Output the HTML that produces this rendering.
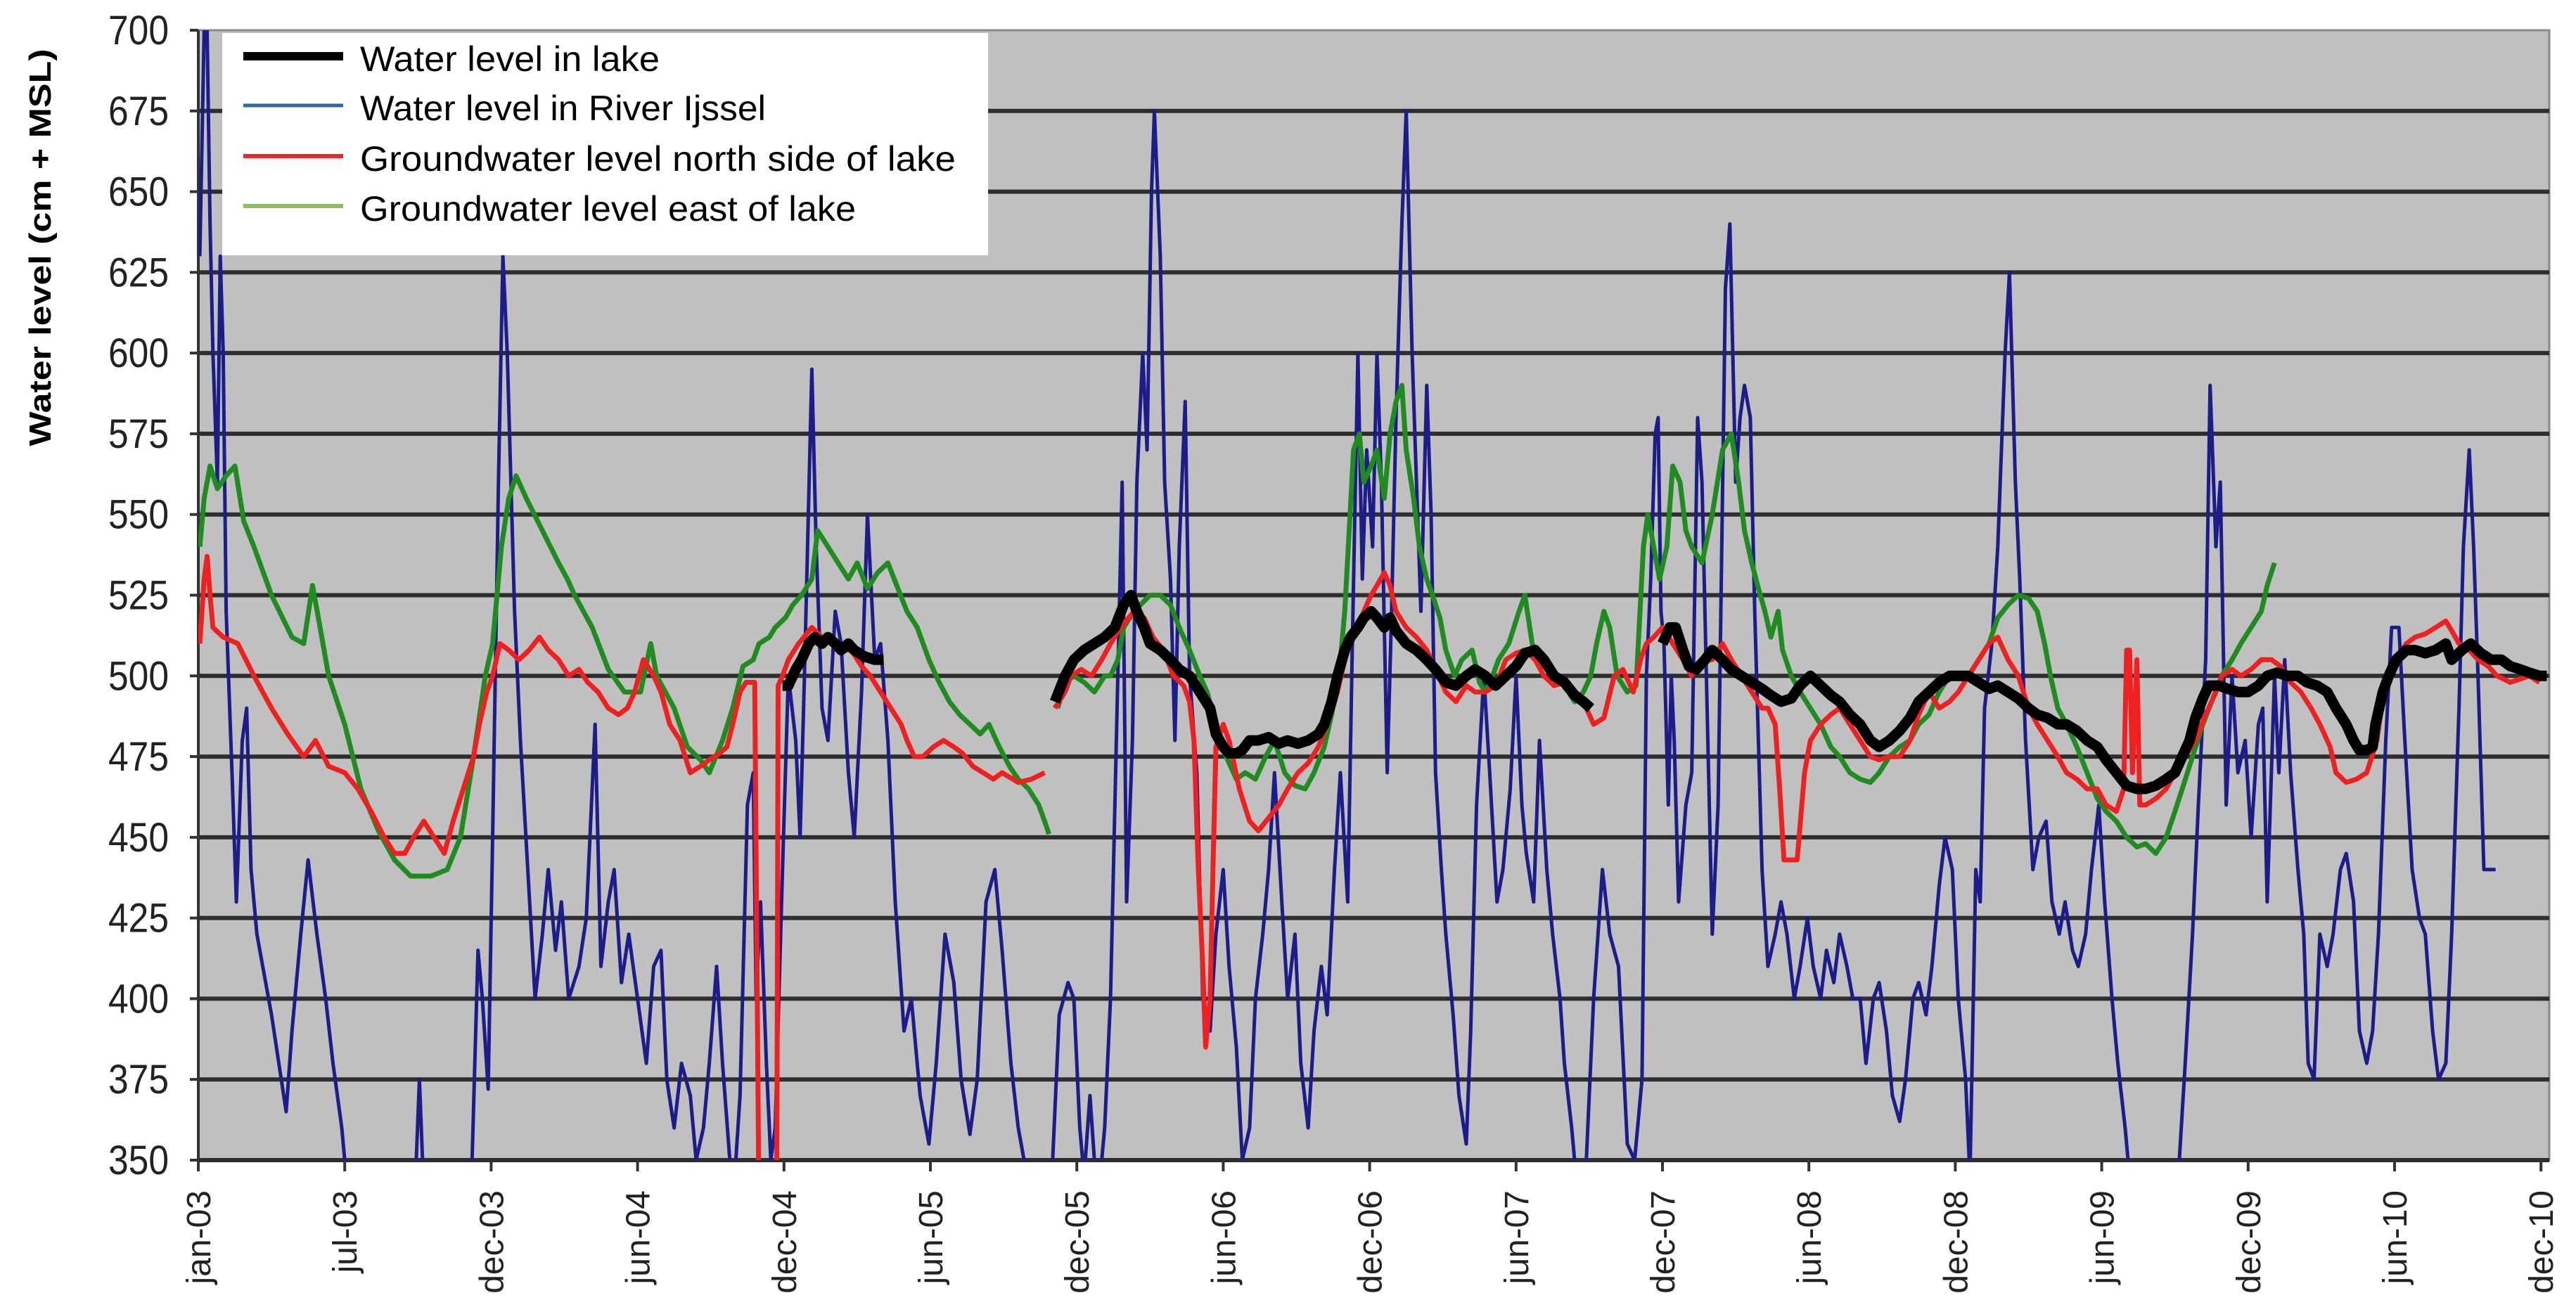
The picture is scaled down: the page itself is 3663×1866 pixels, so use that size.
<!DOCTYPE html>
<html><head><meta charset="utf-8"><style>
html,body{margin:0;padding:0;background:#fff;}
svg{display:block;}
text{font-family:"Liberation Sans",sans-serif;}
</style></head><body>
<svg id="chart" width="3663" height="1866" viewBox="0 0 3663 1866" xmlns="http://www.w3.org/2000/svg">
<defs><clipPath id="plotclip"><rect x="282" y="43" width="3343" height="1607"/></clipPath></defs>
<rect x="282" y="43" width="3343" height="1607" fill="#c0c0c0" stroke="#8a8a8a" stroke-width="3"/>
<g id="grid"></g>
<g id="axes"></g>
<g id="series" clip-path="url(#plotclip)"></g>
<text transform="translate(72,352) rotate(-90)" text-anchor="middle" font-size="44" font-weight="bold" textLength="565" lengthAdjust="spacingAndGlyphs">Water level (cm + MSL)</text>
<g>
<rect x="316" y="47" width="1089" height="316" fill="#fff"/>
<g><line x1="346" y1="80" x2="488" y2="80" stroke="#000" stroke-width="12"/><text x="512" y="101" font-size="50" textLength="426" lengthAdjust="spacingAndGlyphs">Water level in lake</text></g>
<g><line x1="346" y1="150" x2="488" y2="150" stroke="#2a6aa8" stroke-width="5"/><text x="512" y="171" font-size="50" textLength="577" lengthAdjust="spacingAndGlyphs">Water level in River Ijssel</text></g>
<g><line x1="346" y1="222" x2="488" y2="222" stroke="#e8282a" stroke-width="6"/><text x="512" y="243" font-size="50" textLength="847" lengthAdjust="spacingAndGlyphs">Groundwater level north side of lake</text></g>
<g><line x1="346" y1="293" x2="488" y2="293" stroke="#8cc060" stroke-width="6"/><text x="512" y="314" font-size="50" textLength="705" lengthAdjust="spacingAndGlyphs">Groundwater level east of lake</text></g>
</g>
</svg>
<script>
const xTickLabels=["jan-03","jul-03","dec-03","jun-04","dec-04","jun-05","dec-05","jun-06","dec-06","jun-07","dec-07","jun-08","dec-08","jun-09","dec-09","jun-10","dec-10"];
const yTicks=[350,375,400,425,450,475,500,525,550,575,600,625,650,675,700];

const riverT=[0.01,0.04,0.06,0.08,0.10,0.13,0.15,0.17,0.19,0.23,0.26,0.30,0.33,0.36,0.40,0.44,0.50,0.55,0.60,0.64,0.70,0.75,0.81,0.87,0.92,0.98,1.02,1.34,1.48,1.51,1.54,1.68,1.87,1.91,1.94,1.98,2.01,2.05,2.08,2.11,2.16,2.20,2.25,2.30,2.35,2.39,2.44,2.48,2.53,2.60,2.65,2.71,2.75,2.80,2.84,2.89,2.94,3.00,3.06,3.11,3.16,3.20,3.25,3.30,3.36,3.40,3.45,3.49,3.54,3.58,3.63,3.65,3.70,3.75,3.79,3.81,3.84,3.88,3.91,3.94,3.99,4.03,4.08,4.11,4.14,4.19,4.22,4.26,4.30,4.35,4.39,4.44,4.48,4.53,4.57,4.62,4.66,4.71,4.76,4.82,4.87,4.93,4.99,5.04,5.10,5.16,5.21,5.27,5.32,5.38,5.44,5.49,5.55,5.60,5.66,5.72,5.83,5.88,5.94,5.98,6.02,6.05,6.09,6.12,6.15,6.19,6.23,6.28,6.31,6.34,6.38,6.41,6.45,6.48,6.51,6.53,6.57,6.60,6.64,6.67,6.70,6.74,6.77,6.82,6.86,6.91,6.95,7.00,7.04,7.09,7.13,7.18,7.22,7.27,7.31,7.35,7.40,7.44,7.49,7.53,7.58,7.62,7.67,7.71,7.76,7.80,7.85,7.88,7.92,7.95,7.98,8.02,8.05,8.08,8.12,8.15,8.18,8.22,8.25,8.29,8.32,8.35,8.39,8.42,8.45,8.49,8.52,8.57,8.61,8.66,8.69,8.73,8.78,8.82,8.87,8.91,8.96,9.00,9.04,9.07,9.12,9.16,9.21,9.25,9.30,9.33,9.38,9.42,9.48,9.53,9.59,9.64,9.70,9.76,9.81,9.86,9.89,9.92,9.95,9.97,9.99,10.01,10.04,10.06,10.08,10.11,10.16,10.20,10.24,10.27,10.31,10.34,10.38,10.43,10.46,10.50,10.53,10.56,10.60,10.63,10.68,10.72,10.77,10.81,10.85,10.90,10.94,10.99,11.03,11.08,11.12,11.17,11.21,11.26,11.30,11.35,11.39,11.44,11.48,11.53,11.57,11.62,11.66,11.71,11.75,11.80,11.84,11.89,11.93,11.98,12.02,12.07,12.10,12.14,12.17,12.20,12.25,12.29,12.34,12.37,12.41,12.44,12.48,12.53,12.57,12.62,12.66,12.71,12.75,12.80,12.84,12.89,12.93,12.98,13.02,13.07,13.11,13.16,13.20,13.46,13.53,13.57,13.62,13.66,13.71,13.74,13.78,13.81,13.85,13.89,13.93,13.98,14.02,14.07,14.10,14.13,14.18,14.21,14.25,14.29,14.34,14.38,14.41,14.45,14.49,14.54,14.58,14.63,14.67,14.72,14.76,14.81,14.85,14.89,14.94,14.98,15.03,15.07,15.12,15.17,15.21,15.26,15.30,15.35,15.39,15.44,15.47,15.51,15.54,15.57,15.61,15.64,15.69];
const riverV=[630,700,700,640,600,560,630,600,520,470,430,480,490,440,420,410,395,380,365,390,420,443,420,400,380,360,340,330,340,375,340,330,350,415,400,372,450,560,630,600,520,480,440,400,420,440,415,430,400,410,425,485,410,430,440,405,420,400,380,410,415,375,360,380,370,350,360,380,410,380,350,335,370,460,470,400,430,380,350,360,440,500,480,450,500,595,540,490,480,520,510,470,450,495,550,505,510,480,430,390,400,370,355,380,420,405,375,358,375,430,440,415,380,360,345,330,345,395,405,400,360,345,370,350,340,360,400,500,560,430,480,560,600,570,650,675,630,560,530,480,540,585,500,470,400,390,420,440,410,385,350,360,400,420,440,470,430,400,420,380,360,390,410,395,440,470,430,505,600,530,570,540,600,560,470,520,580,640,675,600,560,520,590,550,470,440,420,395,370,355,390,460,500,470,430,440,465,500,460,445,430,480,440,420,400,380,360,340,350,400,440,420,410,355,350,375,500,530,575,580,520,510,460,500,480,430,460,470,580,560,480,420,460,620,640,560,580,590,580,520,440,410,420,430,420,400,410,425,410,400,415,405,420,410,400,400,380,400,405,390,370,362,375,400,405,395,410,435,450,440,400,375,345,440,430,490,510,540,600,625,560,530,480,440,450,455,430,420,430,415,410,420,440,460,430,400,380,360,340,340,350,380,420,460,505,590,540,560,460,500,470,480,450,485,490,430,500,470,505,470,440,420,380,375,420,410,420,440,445,430,390,380,390,420,480,515,515,480,440,425,420,390,375,380,420,490,540,570,540,500,440,440,440];

const northT=[0.01,0.04,0.06,0.08,0.10,0.17,0.27,0.38,0.50,0.61,0.72,0.80,0.89,1.00,1.09,1.18,1.27,1.34,1.41,1.47,1.54,1.61,1.68,1.74,1.81,1.88,1.92,1.97,2.01,2.06,2.12,2.19,2.26,2.33,2.39,2.46,2.53,2.60,2.66,2.73,2.80,2.87,2.93,2.98,3.04,3.11,3.16,3.22,3.29,3.36,3.43,3.49,3.56,3.61,3.65,3.70,3.74,3.80,3.83,3.84,3.95,3.96,3.99,4.03,4.10,4.19,4.26,4.33,4.39,4.46,4.53,4.59,4.66,4.73,4.80,4.84,4.89,4.95,5.02,5.09,5.16,5.22,5.29,5.36,5.43,5.49,5.60,5.69,5.78,null,5.85,5.92,5.96,6.03,6.10,6.17,6.23,6.30,6.39,6.46,6.52,6.59,6.66,6.73,6.77,6.80,6.83,6.86,6.88,6.91,6.93,6.95,7.00,7.04,7.11,7.18,7.24,7.31,7.38,7.44,7.51,7.58,7.65,7.71,7.78,7.83,7.87,7.92,7.96,8.01,8.05,8.10,8.14,8.18,8.25,8.32,8.39,8.45,8.52,8.59,8.66,8.72,8.79,8.86,8.93,9.00,9.06,9.13,9.19,9.26,9.33,9.40,9.46,9.53,9.60,9.67,9.73,9.80,9.85,9.89,9.94,10.00,10.07,10.14,10.20,10.27,10.34,10.41,10.47,10.54,10.61,10.68,10.72,10.77,10.80,10.83,10.88,10.92,10.97,11.01,11.08,11.15,11.21,11.28,11.35,11.42,11.48,11.55,11.62,11.69,11.75,11.82,11.89,11.96,12.02,12.09,12.16,12.23,12.29,12.36,12.43,12.50,12.56,12.63,12.70,12.76,12.83,12.90,12.97,13.03,13.10,13.15,13.17,13.19,13.21,13.24,13.26,13.30,13.37,13.44,13.50,13.57,13.64,13.71,13.78,13.82,13.89,13.95,14.02,14.09,14.16,14.22,14.29,14.36,14.43,14.49,14.56,14.60,14.67,14.74,14.81,14.88,14.94,15.01,15.08,15.14,15.21,15.28,15.35,15.39,15.44,15.51,15.57,15.64,15.70,15.79,15.92,15.99];
const northV=[510,530,537,525,515,512,510,500,490,482,475,480,472,470,465,458,450,445,445,450,455,450,445,455,465,475,485,495,500,510,508,505,508,512,508,505,500,502,498,495,490,488,490,495,505,500,495,485,480,470,472,474,476,478,485,495,498,498,330,330,330,497,500,505,510,515,512,510,508,508,503,500,495,490,485,480,475,475,478,480,478,476,472,470,468,470,467,468,470,null,490,495,500,502,500,505,510,515,520,518,512,508,500,497,492,480,440,410,385,400,440,478,485,480,465,455,452,456,460,465,470,473,478,485,495,505,510,515,520,525,528,532,528,520,515,512,508,502,495,492,497,495,495,497,505,507,508,505,500,497,498,495,492,485,487,500,502,495,505,510,512,515,510,505,500,505,505,510,505,500,495,490,490,485,465,443,443,443,470,480,485,488,490,485,480,475,474,475,475,480,488,495,490,492,495,500,505,510,512,505,500,490,485,480,475,470,468,465,465,460,458,465,508,508,470,505,460,460,462,465,470,475,480,488,495,500,502,500,502,505,505,503,498,495,490,485,478,470,467,468,470,480,500,505,510,512,513,515,517,514,510,508,505,503,500,498,500,498];

const eastT=[0.01,0.04,0.08,0.13,0.19,0.25,0.31,0.38,0.50,0.64,0.72,0.78,0.82,0.89,1.00,1.11,1.23,1.34,1.45,1.59,1.70,1.79,1.88,1.96,2.01,2.07,2.12,2.17,2.24,2.35,2.46,2.52,2.57,2.69,2.80,2.91,3.02,3.09,3.13,3.19,3.25,3.34,3.43,3.49,3.58,3.65,3.72,3.79,3.83,3.90,3.94,4.01,4.06,4.12,4.19,4.23,4.30,4.37,4.44,4.50,4.57,4.64,4.71,4.77,4.84,4.91,4.99,5.06,5.13,5.20,5.27,5.34,5.40,5.47,5.54,5.60,5.67,5.74,5.78,5.81,null,5.87,5.92,5.98,6.05,6.12,6.19,6.23,6.28,6.32,6.39,6.50,6.57,6.64,6.70,6.77,6.84,6.89,6.95,7.02,7.09,7.15,7.22,7.29,7.35,7.42,7.49,7.56,7.62,7.69,7.74,7.79,7.83,7.86,7.89,7.93,7.96,8.01,8.05,8.10,8.14,8.18,8.22,8.25,8.30,8.34,8.39,8.43,8.48,8.52,8.58,8.63,8.70,8.75,8.79,8.84,8.88,8.95,9.02,9.06,9.11,9.15,9.19,9.26,9.33,9.40,9.46,9.51,9.55,9.60,9.64,9.69,9.76,9.82,9.87,9.90,9.94,9.98,10.03,10.07,10.12,10.16,10.20,10.27,10.34,10.41,10.47,10.52,10.56,10.61,10.65,10.70,10.74,10.79,10.82,10.88,10.94,11.01,11.08,11.15,11.21,11.28,11.35,11.42,11.48,11.55,11.62,11.69,11.75,11.82,11.89,11.96,12.02,12.09,12.16,12.23,12.29,12.36,12.43,12.50,12.56,12.61,12.65,12.70,12.76,12.83,12.90,12.97,13.03,13.10,13.17,13.24,13.30,13.37,13.44,13.50,13.55,13.62,13.69,13.75,13.82,13.89,13.95,14.02,14.09,14.13,14.18];
const eastV=[540,555,565,558,562,565,548,540,525,512,510,528,518,500,485,465,452,443,438,438,440,450,475,500,510,540,555,562,555,545,535,530,525,515,502,495,495,510,500,495,490,478,474,470,480,490,503,505,510,512,515,518,522,525,530,545,540,535,530,535,527,532,535,528,520,515,505,498,492,488,485,482,485,478,472,468,465,460,455,451,null,490,498,500,498,495,500,500,505,515,520,525,525,522,515,508,500,495,485,475,468,470,468,475,480,470,466,465,470,478,488,500,520,545,570,575,560,565,570,555,575,585,590,570,555,540,530,525,518,508,500,505,508,498,495,500,505,510,520,525,510,505,503,500,497,492,495,500,510,520,515,500,495,497,540,550,540,530,540,565,560,545,540,535,550,570,575,560,545,535,528,520,512,520,508,500,495,490,485,478,475,470,468,467,470,475,478,480,485,488,495,500,500,500,505,510,518,522,525,524,520,510,500,490,485,478,470,462,458,455,450,447,448,445,450,458,465,475,485,492,500,505,510,515,520,528,535];

const lakeT=[3.99,4.03,4.08,4.12,4.17,4.21,4.26,4.30,4.35,4.39,4.44,4.48,4.55,4.62,4.68,null,5.85,5.92,5.98,6.05,6.12,6.19,6.26,6.32,6.37,6.41,6.46,6.50,6.57,6.64,6.70,6.77,6.84,6.91,6.95,7.00,7.04,7.09,7.13,7.18,7.24,7.31,7.38,7.44,7.51,7.58,7.65,7.69,7.74,7.78,7.83,7.87,7.92,7.96,8.01,8.05,8.10,8.14,8.18,8.25,8.32,8.39,8.45,8.52,8.59,8.66,8.72,8.79,8.86,8.93,9.00,9.06,9.13,9.19,9.26,9.33,9.40,9.46,9.51,null,10.00,10.05,10.09,10.14,10.18,10.23,10.29,10.34,10.41,10.47,10.54,10.61,10.68,10.74,10.81,10.88,10.94,11.01,11.08,11.15,11.21,11.28,11.35,11.42,11.48,11.55,11.62,11.69,11.75,11.82,11.89,11.96,12.02,12.09,12.16,12.23,12.29,12.36,12.43,12.50,12.56,12.63,12.70,12.76,12.83,12.90,12.97,13.03,13.10,13.17,13.24,13.30,13.37,13.44,13.50,13.55,13.60,13.64,13.69,13.73,13.80,13.86,13.93,14.00,14.07,14.13,14.20,14.27,14.34,14.40,14.47,14.54,14.60,14.67,14.72,14.76,14.81,14.85,14.87,14.92,14.96,15.01,15.08,15.14,15.21,15.28,15.35,15.39,15.46,15.52,15.59,15.66,15.73,15.79,15.86,15.92,15.99,16.04];
const lakeV=[497,497,502,505,510,512,510,512,510,508,510,508,506,505,505,null,492,500,505,508,510,512,515,522,525,520,515,510,508,505,502,500,495,490,482,478,476,476,477,480,480,481,479,480,479,480,482,485,492,500,508,512,515,518,520,518,515,518,514,510,508,505,502,498,497,500,502,500,497,500,503,507,508,505,500,498,494,492,490,null,510,515,515,508,503,502,505,508,505,502,500,498,496,494,492,493,497,500,497,494,492,488,485,480,478,480,483,487,492,495,498,500,500,500,498,496,497,495,493,490,488,487,485,485,483,480,478,474,470,466,465,465,466,468,470,475,480,487,493,497,497,496,495,495,497,500,501,500,500,498,497,495,490,485,480,477,477,478,485,495,500,505,508,508,507,508,510,505,508,510,507,505,505,503,502,501,500,500];

const L=282,R=3625,T=43,B=1650,tickW=208.2;
const xS=t=>L+t*tickW;
const yS=v=>T+(700-v)/350*(B-T);
const NS="http://www.w3.org/2000/svg";
function mk(tag,attrs,parent){const e=document.createElementNS(NS,tag);for(const k in attrs)e.setAttribute(k,attrs[k]);parent.appendChild(e);return e;}

const grid=document.getElementById('grid');
const axes=document.getElementById('axes');
yTicks.forEach(v=>{
  const y=yS(v);
  if(v>350&&v<700){
    const g=mk('line',{x1:L,x2:R,y1:y,y2:y,stroke:'#2e2e2e','stroke-width':6},grid);
    
    
  }
  const tk=mk('line',{x1:L-12,x2:L,y1:y,y2:y,stroke:'#333','stroke-width':4},axes);
  
  
  const tx=mk('text',{x:240,y:y+20,'text-anchor':'end','font-size':58,textLength:86,lengthAdjust:'spacingAndGlyphs',fill:'#222'},axes);
  tx.textContent=String(v);
  
  
});
mk('line',{x1:L,x2:R,y1:B,y2:B,stroke:'#2e2e2e','stroke-width':6},axes);
mk('line',{x1:L,x2:L,y1:T,y2:B,stroke:'#333','stroke-width':4},axes);
xTickLabels.forEach((lab,i)=>{
  const x=xS(i);
  const tk=mk('line',{x1:x,x2:x,y1:B,y2:B+16,stroke:'#333','stroke-width':4},axes);
  
  
  const tx=mk('text',{transform:`translate(${x+17},1693) rotate(-90)`,'text-anchor':'end','font-size':48,fill:'#222'},axes);
  tx.textContent=lab;
  
  
});

function pathD(ts,vs){
  let d='',pen=false;
  for(let i=0;i<ts.length;i++){
    if(ts[i]===null||vs[i]===null){pen=false;continue;}
    d+=(pen?'L':'M')+xS(ts[i]).toFixed(1)+' '+yS(vs[i]).toFixed(1);
    pen=true;
  }
  return d;
}
const ser=document.getElementById('series');
const pRiver=mk('path',{d:pathD(riverT,riverV),fill:'none',stroke:'#1c1c8a','stroke-width':5,'stroke-linejoin':'round'},ser);


const pEast=mk('path',{d:pathD(eastT,eastV),fill:'none',stroke:'#1e8c1e','stroke-width':7,'stroke-linejoin':'round'},ser);


const pNorth=mk('path',{d:pathD(northT,northV),fill:'none',stroke:'#f02020','stroke-width':7,'stroke-linejoin':'round'},ser);


const pLake=mk('path',{d:pathD(lakeT,lakeV),fill:'none',stroke:'#000','stroke-width':15,'stroke-linejoin':'round'},ser);


</script>
</body></html>
